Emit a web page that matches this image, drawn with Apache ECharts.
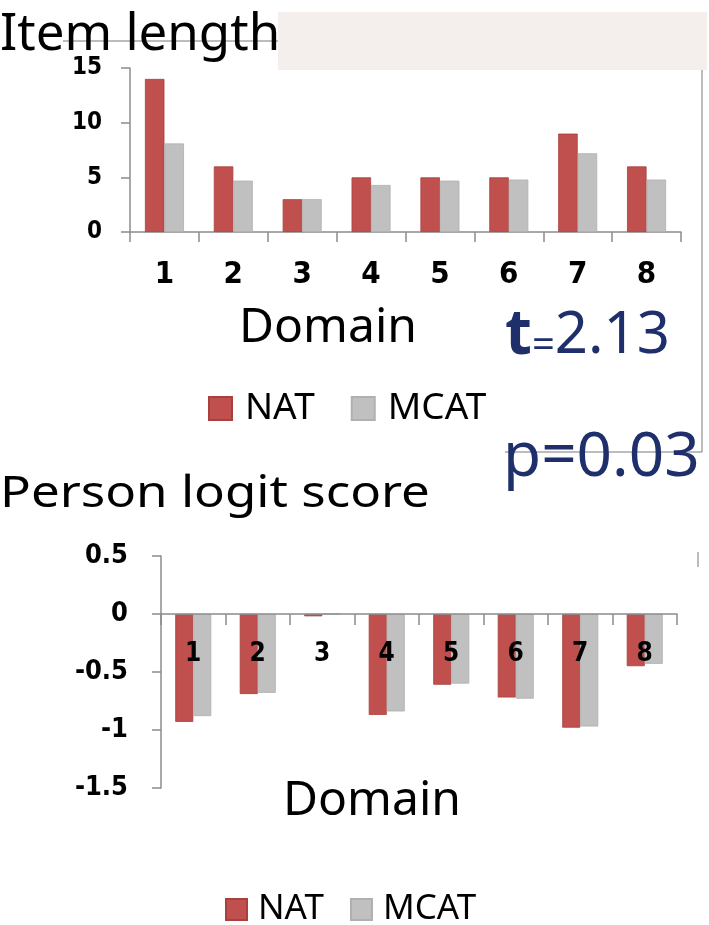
<!DOCTYPE html>
<html><head><meta charset="utf-8">
<script src="https://cdn.jsdelivr.net/npm/echarts@6/dist/echarts.min.js"></script>
<style>html,body{margin:0;padding:0;background:#fff}#c{width:709px;height:925px}</style>
</head><body><div id="c"></div>
<script>
const domains = ['1','2','3','4','5','6','7','8'];
const seriesNames = ['NAT','MCAT'];
const itemLengthNAT = [14, 6, 3, 5, 5, 5, 9, 6];
const itemLengthMCAT = [8.1, 4.7, 3, 4.3, 4.7, 4.8, 7.2, 4.8];
const logitNAT = [-0.93, -0.69, -0.02, -0.87, -0.61, -0.72, -0.98, -0.45];
const logitMCAT = [-0.88, -0.68, 0, -0.84, -0.60, -0.73, -0.97, -0.43];
const topAxis = {min: 0, max: 15, interval: 5};
const bottomAxis = {min: -1.5, max: 0.5, interval: 0.5};

const RED = '#c0504d', GRAY = '#c0c0c0', AX = '#8c8c8c', NAVY = '#1f2f6b';
const NARROW = '"DejaVu Sans Condensed","Liberation Sans Narrow",sans-serif';
const SANS = '"Noto Sans","Open Sans",sans-serif';

// bottom grid geometry: top 556, bottom edge 788; zero line placed by offset
const G2_TOP = 556, G2_BOTTOM = 788;
const zeroY = G2_TOP + (G2_BOTTOM - G2_TOP) * (bottomAxis.max - 0) / (bottomAxis.max - bottomAxis.min);

const chart = echarts.init(document.getElementById('c'));
const axisLineStyle = {lineStyle: {color: AX, width: 1.5}};
chart.setOption({
  animation: false,
  backgroundColor: '#fff',
  grid: [
    {left: 130, right: 28, top: 68, bottom: 925 - 232},
    {left: 161, right: 32, top: G2_TOP, bottom: 925 - G2_BOTTOM}
  ],
  xAxis: [
    {type: 'category', gridIndex: 0, data: domains,
     axisLine: axisLineStyle, axisTick: {show: true, length: 10, lineStyle: {color: AX, width: 1.5}},
     axisLabel: {margin: 27, fontFamily: NARROW, fontWeight: 'bold', fontSize: 31, color: '#000'}},
    {type: 'category', gridIndex: 1, data: domains, z: 5, position: 'bottom', offset: -(G2_BOTTOM - zeroY),
     axisLine: {onZero: false, lineStyle: {color: AX, width: 1.5}},
     axisTick: {show: true, length: 11, lineStyle: {color: AX, width: 1.5}},
     axisLabel: {margin: 27, fontFamily: NARROW, fontWeight: 'bold', fontSize: 26, color: '#000'}}
  ],
  yAxis: [
    {type: 'value', gridIndex: 0, min: topAxis.min, max: topAxis.max, interval: topAxis.interval,
     splitLine: {show: false}, axisLine: {show: true, lineStyle: {color: AX, width: 1.5}},
     axisTick: {show: true, length: 9, lineStyle: {color: AX, width: 1.5}},
     axisLabel: {margin: 28, fontFamily: NARROW, fontWeight: 'bold', fontSize: 24, color: '#000'}},
    {type: 'value', gridIndex: 1, min: bottomAxis.min, max: bottomAxis.max, interval: bottomAxis.interval,
     splitLine: {show: false}, axisLine: {show: true, lineStyle: {color: AX, width: 1.5}},
     axisTick: {show: true, length: 9, lineStyle: {color: AX, width: 1.5}},
     axisLabel: {margin: 33, fontFamily: NARROW, fontWeight: 'bold', fontSize: 27, color: '#000'}}
  ],
  legend: [
    {data: seriesNames, left: 203, top: 385, icon: 'rect', itemWidth: 23, itemHeight: 23, itemGap: 36,
     textStyle: {fontFamily: SANS, fontSize: 37, color: '#000', padding: [0, 0, 0, 8]}},
    {data: seriesNames, left: 220, top: 887, icon: 'rect', itemWidth: 21, itemHeight: 21, itemGap: 26,
     textStyle: {fontFamily: SANS, fontSize: 35, color: '#000', padding: [0, 0, 0, 6]}}
  ],
  series: [
    {name: 'NAT', type: 'bar', xAxisIndex: 0, yAxisIndex: 0, data: itemLengthNAT, barWidth: 19.5, barGap: '0%',
     itemStyle: {color: RED, borderColor: '#a8403d', borderWidth: 0.8}},
    {name: 'MCAT', type: 'bar', xAxisIndex: 0, yAxisIndex: 0, data: itemLengthMCAT, barWidth: 19.5, barGap: '0%',
     itemStyle: {color: GRAY, borderColor: '#b0b0b0', borderWidth: 0.8}},
    {name: 'NAT', type: 'bar', xAxisIndex: 1, yAxisIndex: 1, data: logitNAT, barWidth: 18, barGap: '0%',
     itemStyle: {color: RED, borderColor: '#a8403d', borderWidth: 0.8}},
    {name: 'MCAT', type: 'bar', xAxisIndex: 1, yAxisIndex: 1, data: logitMCAT, barWidth: 18, barGap: '0%',
     itemStyle: {color: GRAY, borderColor: '#b0b0b0', borderWidth: 0.8}}
  ],
  graphic: [
    {type: 'rect', shape: {x: 278, y: 12, width: 429, height: 58}, style: {fill: '#f4efec'}, z: 0},
    {type: 'line', shape: {x1: 63, y1: 41, x2: 278, y2: 41}, style: {stroke: '#a6a6a6', lineWidth: 1.5}, z: 0},
    {type: 'line', shape: {x1: 702, y1: 70, x2: 702, y2: 452}, style: {stroke: '#a6a6a6', lineWidth: 1.5}, z: 0},
    {type: 'line', shape: {x1: 505, y1: 452, x2: 702, y2: 452}, style: {stroke: '#a6a6a6', lineWidth: 1.5}, z: 0},
    {type: 'line', shape: {x1: 698, y1: 552, x2: 698, y2: 567}, style: {stroke: '#a6a6a6', lineWidth: 1.5}, z: 0},
    {type: 'text', x: 0, y: 35, z: 10,
     style: {text: 'Item length', font: '51px "Noto Sans"', fill: '#000', textVerticalAlign: 'middle', verticalAlign: 'middle'}},
    {type: 'text', x: 328, y: 328, z: 10,
     style: {text: 'Domain', font: '48px "Noto Sans"', fill: '#000', textAlign: 'center', align: 'center', textVerticalAlign: 'middle', verticalAlign: 'middle'}},
    {type: 'text', x: 505, y: 336, z: 10,
     style: {text: '{t|t}{e|=}{n|2.13}', fill: NAVY, textVerticalAlign: 'middle', verticalAlign: 'middle',
       rich: {t: {fontFamily: 'Noto Sans', fontWeight: 'bold', fontSize: 62, fill: NAVY, color: NAVY},
              e: {fontFamily: 'Noto Sans', fontSize: 40, fill: NAVY, color: NAVY, verticalAlign: 'bottom'},
              n: {fontFamily: 'Noto Sans', fontSize: 58, fill: NAVY, color: NAVY}}}},
    {type: 'text', x: 503, y: 458, z: 10,
     style: {text: 'p=0.03', font: '62px "Noto Sans"', fill: NAVY, textVerticalAlign: 'middle', verticalAlign: 'middle'}},
    {type: 'text', x: 0, y: 494, z: 10, scaleX: 1.16,
     style: {text: 'Person logit score', font: '44px "Noto Sans"', fill: '#000', textVerticalAlign: 'middle', verticalAlign: 'middle'}},
    {type: 'text', x: 372, y: 801, z: 10,
     style: {text: 'Domain', font: '48px "Noto Sans"', fill: '#000', textAlign: 'center', align: 'center', textVerticalAlign: 'middle', verticalAlign: 'middle'}}
  ]
});
</script></body></html>
